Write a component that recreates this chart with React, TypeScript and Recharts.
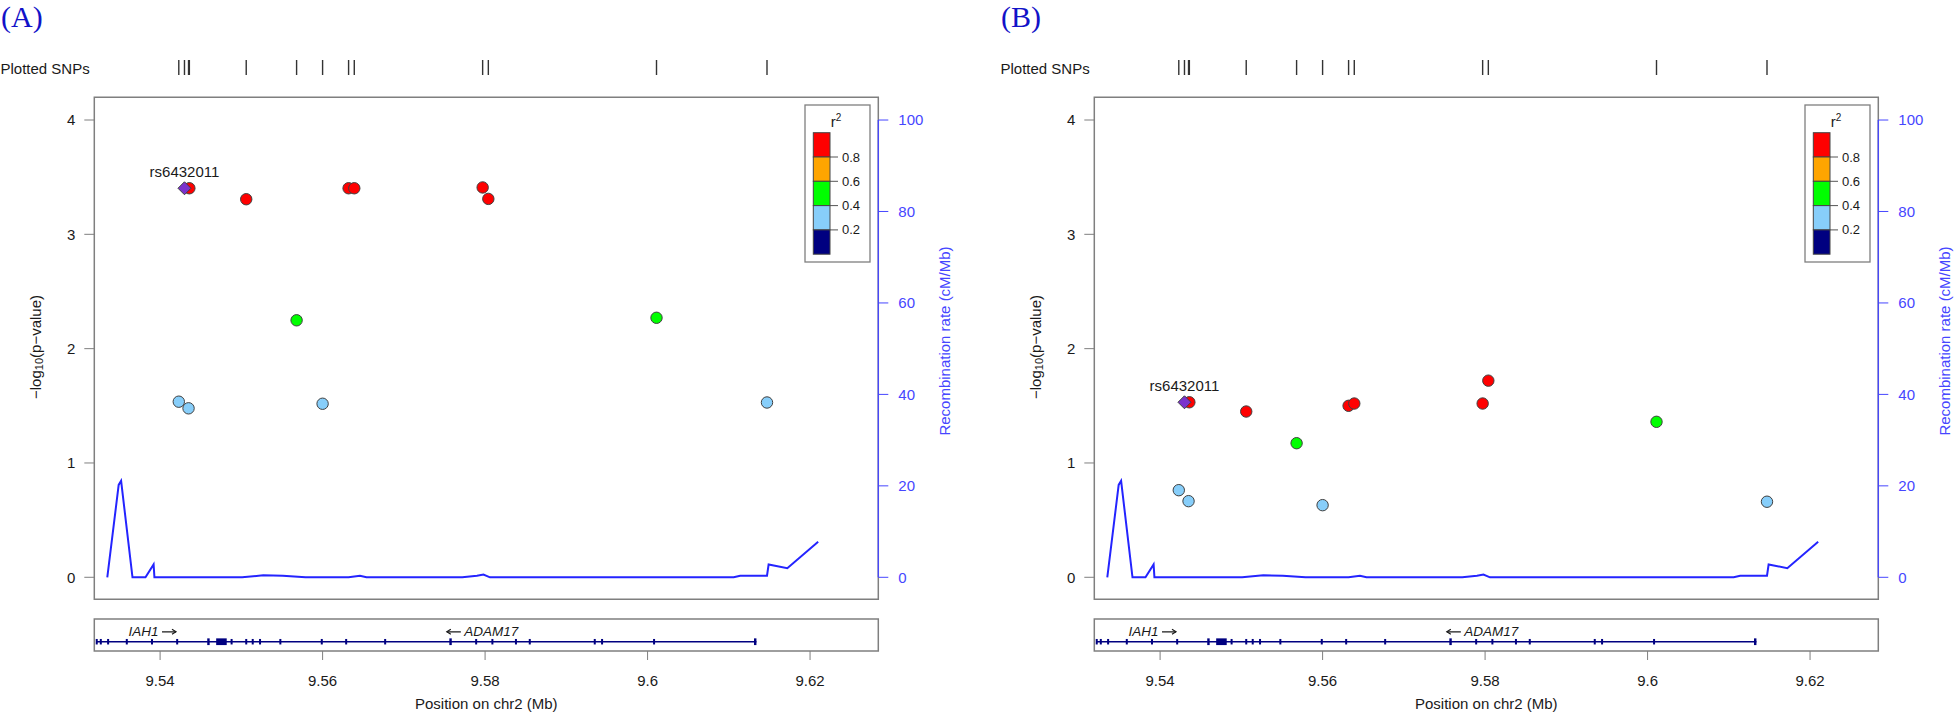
import React from 'react';
import { ComposedChart, Scatter, Line, XAxis, YAxis, ReferenceArea, ReferenceLine } from 'recharts';

// SNPs (same positions in both panels), Mb on chr2
const snpPos = [9.5423, 9.543, 9.5436, 9.5435, 9.5506, 9.5568, 9.56, 9.5632, 9.5639, 9.5797, 9.5804, 9.6011, 9.6147];
const snpR2 = [0.3, 1.0, 0.9, 0.3, 0.9, 0.5, 0.3, 0.9, 0.9, 0.9, 0.9, 0.5, 0.3];
const logPA = [1.536, 3.403, 3.403, 1.478, 3.307, 2.248, 1.518, 3.403, 3.403, 3.41, 3.31, 2.27, 1.529];
const logPB = [0.762, 1.531, 1.531, 0.666, 1.45, 1.173, 0.631, 1.5, 1.52, 1.52, 1.72, 1.36, 0.661];
const leadSnp = 'rs6432011';
const leadIdx = 1;

// recombination rate (cM/Mb)
const recPos = [9.5335, 9.5349, 9.5352, 9.5366, 9.5382, 9.5392, 9.5393, 9.5501, 9.5527, 9.5551, 9.5579, 9.5632, 9.5646, 9.5654, 9.5772, 9.579, 9.5798, 9.5806, 9.6106, 9.6114, 9.6147, 9.6149, 9.6172, 9.621];
const recRate = [0, 20.2, 21.1, 0, 0, 2.8, 0, 0, 0.45, 0.35, 0, 0, 0.35, 0, 0, 0.35, 0.6, 0, 0, 0.35, 0.35, 2.8, 2.0, 7.8];

// genes
const geneNames = ['IAH1', 'ADAM17'];
const geneStart = [9.5322, 9.5458];
const geneEnd = [9.5458, 9.6134];
const geneStrand = ['+', '-'];
const exonPos = [9.5322, 9.5327, 9.5336, 9.5359, 9.539, 9.5421, 9.5488, 9.5506, 9.5514, 9.5523, 9.5548, 9.5599, 9.5629, 9.5677, 9.5789, 9.5809, 9.5838, 9.5855, 9.5935, 9.5944, 9.6008];
const blockStart = [9.5458, 9.5469, 9.5756, 9.6131];
const blockEnd = [9.5461, 9.5482, 9.5759, 9.6134];

const xTicks = [9.54, 9.56, 9.58, 9.6, 9.62];
const pTicks = [0, 1, 2, 3, 4];
const recTicks = [0, 20, 40, 60, 80, 100];
const r2Labels = ['0.8', '0.6', '0.4', '0.2'];
const r2Colors = ['#FF0000', '#FFA500', '#00FF00', '#87CEFA', '#000080'];

const FONT = "'Liberation Sans', Arial, Helvetica, sans-serif";
const X_DOMAIN: [number, number] = [9.5319, 9.6284];
const P_DOMAIN: [number, number] = [-0.1925, 4.1986];
const REC_DOMAIN: [number, number] = [-4.81, 104.97];
const BOX = '#7f7f7f';
const BLUE = '#2424ff';
const AXIS_BLUE = '#4646ff';
const NAVY = '#000080';
const TXT = '#1a1a1a';
const W = 980;
const GENE_Y = 0.29;

const r2Color = (r2: number) =>
  r2 >= 0.8 ? r2Colors[0] : r2 >= 0.6 ? r2Colors[1] : r2 >= 0.4 ? r2Colors[2] : r2 >= 0.2 ? r2Colors[3] : r2Colors[4];

const SnpDot = (props: any) => {
  const { cx, cy, payload } = props;
  return <circle cx={cx} cy={cy} r={5.7} fill={r2Color(payload.r2)} stroke="#404040" strokeWidth={1} />;
};

const LeadDiamond = (props: any) => {
  const { cx, cy, payload } = props;
  const s = 6.5;
  return (
    <g>
      <polygon
        points={`${cx},${cy - s} ${cx + s},${cy} ${cx},${cy + s} ${cx - s},${cy}`}
        fill="#7a32cc"
        stroke="#404040"
        strokeWidth={1}
      />
      <text x={cx} y={cy - 11.5} textAnchor="middle" fontSize={15} fontFamily={FONT} fill={TXT}>
        {payload.name}
      </text>
    </g>
  );
};

const RugTick = (props: any) => {
  const { cx, cy } = props;
  return <line x1={cx} x2={cx} y1={cy - 7.5} y2={cy + 7.5} stroke="#333" strokeWidth={1.4} />;
};

const ExonTick = (props: any) => {
  const { cx, cy } = props;
  return <rect x={cx - 1} y={cy - 2.75} width={2} height={5.5} fill={NAVY} />;
};

const GeneLabel = (props: any) => {
  const { cx, cy, payload } = props;
  const fwd = payload.strand === '+';
  // arrow: shaft + head
  const a0 = fwd ? cx + 10 : cx - 21;
  const a1 = fwd ? cx + 24 : cx - 35;
  const hx = fwd ? a1 - 4 : a1 + 4;
  return (
    <g>
      <text
        x={fwd ? cx + 6.5 : cx - 17.5}
        y={cy}
        textAnchor={fwd ? 'end' : 'start'}
        dominantBaseline="central"
        fontSize={13.5}
        fontStyle="italic"
        fontFamily={FONT}
        fill={TXT}
      >
        {payload.name}
      </text>
      <line x1={a0} x2={a1} y1={cy} y2={cy} stroke={TXT} strokeWidth={1.2} />
      <polyline points={`${hx},${cy - 2.5} ${a1},${cy} ${hx},${cy + 2.5}`} fill="none" stroke={TXT} strokeWidth={1.2} />
    </g>
  );
};

const Panel = ({ left, tag, logP }: { left: number; tag: string; logP: number[] }) => {
  const pts = snpPos
    .map((pos, i) => ({ pos, p: logP[i], r2: snpR2[i] }))
    .filter((_, i) => i !== leadIdx);
  const lead = [{ pos: snpPos[leadIdx], p: logP[leadIdx], name: leadSnp }];
  const rec = recPos.map((pos, i) => ({ pos, rate: recRate[i] }));
  const rug = snpPos.map((pos) => ({ pos, y: 0.5 }));
  const exons = exonPos.map((pos) => ({ pos, y: GENE_Y }));
  const geneLabels = geneNames.map((name, i) => ({
    pos: (geneStart[i] + geneEnd[i]) / 2,
    y: 0.6,
    name,
    strand: geneStrand[i],
  }));

  return (
    <div style={{ position: 'absolute', left, top: 0, width: W, height: 715 }}>
      <div style={{ position: 'absolute', left: 0, top: 50 }}>
        <ComposedChart width={W} height={35} margin={{ top: 5, right: 101.7, bottom: 5, left: 94.3 }}>
          <XAxis type="number" dataKey="pos" domain={X_DOMAIN} allowDataOverflow hide />
          <YAxis type="number" dataKey="y" domain={[0, 1]} hide />
          <Scatter data={rug} dataKey="y" shape={RugTick} isAnimationActive={false} />
        </ComposedChart>
      </div>

      <div style={{ position: 'absolute', left: 0, top: 80 }}>
        <ComposedChart width={W} height={530} margin={{ top: 17.3, right: 0, bottom: 10.7, left: 0 }}>
          <XAxis type="number" dataKey="pos" domain={X_DOMAIN} allowDataOverflow hide />
          <YAxis
            yAxisId="p"
            type="number"
            dataKey="p"
            domain={P_DOMAIN}
            allowDataOverflow
            ticks={pTicks}
            interval={0}
            width={94.3}
            axisLine={false}
            tickSize={10}
            tickMargin={9}
            tickLine={{ stroke: BOX }}
            tick={{ fill: TXT, fontSize: 15, fontFamily: FONT }}
          />
          <YAxis
            yAxisId="rec"
            orientation="right"
            type="number"
            dataKey="rate"
            domain={REC_DOMAIN}
            allowDataOverflow
            ticks={recTicks}
            interval={0}
            width={101.7}
            axisLine={false}
            tickSize={10}
            tickMargin={10}
            tickLine={{ stroke: AXIS_BLUE }}
            tick={{ fill: AXIS_BLUE, fontSize: 15, fontFamily: FONT }}
          />
          <ReferenceArea
            yAxisId="p"
            x1={X_DOMAIN[0]}
            x2={X_DOMAIN[1]}
            y1={P_DOMAIN[0]}
            y2={P_DOMAIN[1]}
            fill="none"
            stroke={BOX}
            strokeWidth={1.5}
          />
          <ReferenceLine
            yAxisId="rec"
            segment={[{ x: X_DOMAIN[1], y: 0 }, { x: X_DOMAIN[1], y: 100 }]}
            stroke={AXIS_BLUE}
            strokeWidth={1.3}
          />
          <Line
            yAxisId="rec"
            data={rec}
            dataKey="rate"
            type="linear"
            dot={false}
            stroke={BLUE}
            strokeWidth={2}
            isAnimationActive={false}
          />
          <Scatter yAxisId="p" data={pts} dataKey="p" shape={SnpDot} isAnimationActive={false} />
          <Scatter yAxisId="p" data={lead} dataKey="p" shape={LeadDiamond} isAnimationActive={false} />
        </ComposedChart>
      </div>

      <div style={{ position: 'absolute', left: 0, top: 610 }}>
        <ComposedChart width={W} height={105} margin={{ top: 9, right: 101.7, bottom: 0, left: 94.3 }}>
          <XAxis
            type="number"
            dataKey="pos"
            domain={X_DOMAIN}
            allowDataOverflow
            ticks={xTicks}
            interval={0}
            height={64}
            axisLine={false}
            tickSize={9}
            tickMargin={15.7}
            tickLine={{ stroke: BOX }}
            tick={{ fill: TXT, fontSize: 15, fontFamily: FONT }}
          />
          <YAxis type="number" dataKey="y" domain={[0, 1]} hide />
          <ReferenceArea x1={X_DOMAIN[0]} x2={X_DOMAIN[1]} y1={0} y2={1} fill="none" stroke={BOX} strokeWidth={1.5} />
          {geneNames.map((name, i) => (
            <Line
              key={name}
              data={[
                { pos: geneStart[i], y: GENE_Y },
                { pos: geneEnd[i], y: GENE_Y },
              ]}
              dataKey="y"
              type="linear"
              dot={false}
              stroke={NAVY}
              strokeWidth={1.6}
              isAnimationActive={false}
            />
          ))}
          {blockStart.map((s, i) => (
            <ReferenceArea
              key={i}
              x1={s}
              x2={blockEnd[i]}
              y1={GENE_Y - 0.105}
              y2={GENE_Y + 0.105}
              fill={NAVY}
              fillOpacity={1}
              stroke="none"
            />
          ))}
          <Scatter data={exons} dataKey="y" shape={ExonTick} isAnimationActive={false} />
          <Scatter data={geneLabels} dataKey="y" shape={GeneLabel} isAnimationActive={false} />
        </ComposedChart>
      </div>

      <svg
        width={W}
        height={715}
        style={{ position: 'absolute', left: 0, top: 0, overflow: 'visible', pointerEvents: 'none' }}
        fontFamily={FONT}
      >
        <text x={1} y={27} fontFamily="'Liberation Serif', 'Times New Roman', serif" fontSize={30} fill="#1212c8">
          {tag}
        </text>
        <text x={0.5} y={74} fontSize={15} fill={TXT}>
          Plotted SNPs
        </text>
        <text transform="translate(35,347) rotate(-90)" textAnchor="middle" dominantBaseline="central" fontSize={15} fill={TXT}>
          −log
          <tspan fontSize={11} dy={4}>
            10
          </tspan>
          <tspan dy={-4}>(p−value)</tspan>
        </text>
        <text transform="translate(944,341) rotate(-90)" textAnchor="middle" dominantBaseline="central" fontSize={15} fill={AXIS_BLUE}>
          Recombination rate (cM/Mb)
        </text>
        <text x={486.3} y={709} textAnchor="middle" fontSize={15} fill={TXT}>
          Position on chr2 (Mb)
        </text>

        {/* r2 legend */}
        <rect x={805} y={105} width={65} height={157} fill="#fff" stroke={BOX} strokeWidth={1.3} />
        <text x={836} y={127} textAnchor="middle" fontSize={15} fill={TXT}>
          r
          <tspan fontSize={10} dy={-6}>
            2
          </tspan>
        </text>
        {r2Colors.map((c, i) => (
          <rect key={c} x={813.3} y={132.7 + i * 24.3} width={16.7} height={24.3} fill={c} stroke="#444" strokeWidth={1} />
        ))}
        {r2Labels.map((l, i) => (
          <g key={l}>
            <line x1={830} x2={838} y1={157 + i * 24.3} y2={157 + i * 24.3} stroke="#555" strokeWidth={1} />
            <text x={842} y={157 + i * 24.3} dominantBaseline="central" fontSize={13} fill={TXT}>
              {l}
            </text>
          </g>
        ))}
      </svg>
    </div>
  );
}

export default function App() {
  return (
    <div
      style={{
        position: 'absolute',
        left: 0,
        top: 0,
        width: 1960,
        height: 715,
        overflow: 'hidden',
        background: '#fff',
      }}
    >
      <Panel left={0} tag="(A)" logP={logPA} />
      <Panel left={1000} tag="(B)" logP={logPB} />
    </div>
  );
}
